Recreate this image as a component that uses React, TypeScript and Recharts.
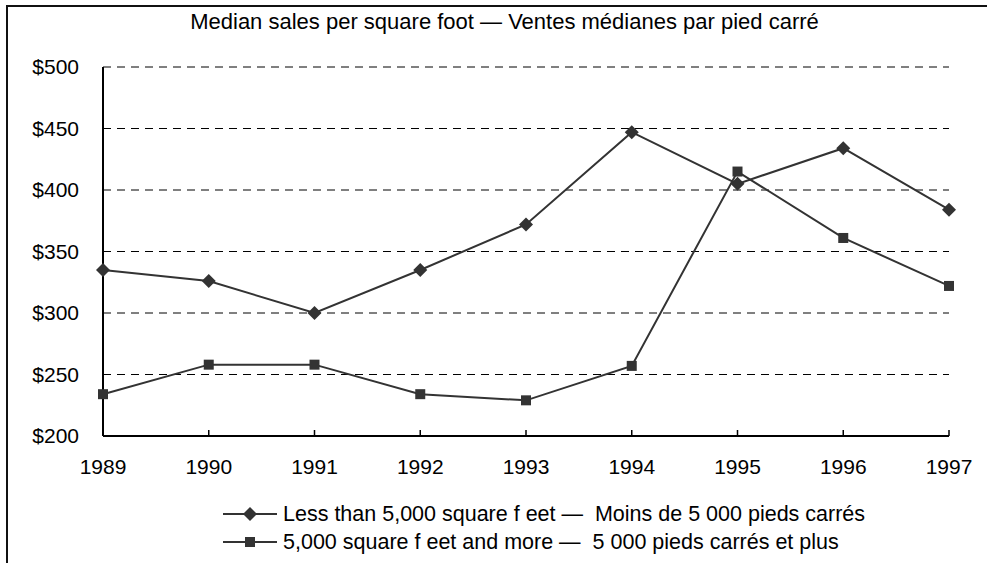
import React from "react";
import { LineChart, Line, XAxis, YAxis, CartesianGrid } from "recharts";

const years = ["1989", "1990", "1991", "1992", "1993", "1994", "1995", "1996", "1997"];
const lessThan5000 = [335, 326, 300, 335, 372, 447, 405, 434, 384];
const moreThan5000 = [234, 258, 258, 234, 229, 257, 415, 361, 322];
const yTicks = [200, 250, 300, 350, 400, 450, 500];
const title = "Median sales per square foot \u2014 Ventes m\u00e9dianes par pied carr\u00e9";
const seriesNames = [
  "Less than 5,000 square f eet \u2014  Moins de 5 000 pieds carr\u00e9s",
  "5,000 square f eet and more \u2014  5 000 pieds carr\u00e9s et plus",
];

const data = years.map((y, i) => ({ year: y, a: lessThan5000[i], b: moreThan5000[i] }));

const FONT = "'Liberation Sans', Arial, sans-serif";
const INK = "#333333";

const Diamond = (props: any) => {
  const { cx, cy } = props;
  if (cx == null || cy == null) return null;
  const r = 7;
  return <path d={`M${cx},${cy - r}L${cx + r},${cy}L${cx},${cy + r}L${cx - r},${cy}Z`} fill={INK} />;
};

const Square = (props: any) => {
  const { cx, cy } = props;
  if (cx == null || cy == null) return null;
  const s = 5;
  return <rect x={cx - s} y={cy - s} width={2 * s} height={2 * s} fill={INK} />;
};

const XTick = (props: any) => {
  const { x, y, payload } = props;
  return (
    <g>
      <line x1={x} y1={y} x2={x} y2={y - 6} stroke="#000" strokeWidth={1.5} />
      <text x={x} y={y + 38} textAnchor="middle" fontFamily={FONT} fontSize={21} fill="#000">
        {payload.value}
      </text>
    </g>
  );
};

const YTick = (props: any) => {
  const { x, y, payload } = props;
  return (
    <text x={x} y={y + 7} textAnchor="end" fontFamily={FONT} fontSize={21} fill="#000">
      {"$" + payload.value}
    </text>
  );
};

export default function App() {
  return (
    <div style={{ position: "absolute", left: 0, top: 0, width: 987, height: 563, background: "#fff" }}>
      <div
        style={{
          position: "absolute",
          left: 6,
          top: 5,
          width: 981,
          height: 558,
          borderTop: "2px solid #111",
          borderLeft: "2px solid #111",
          boxSizing: "border-box",
        }}
      />
      <div
        style={{
          position: "absolute",
          left: 0,
          top: 8,
          width: 1009,
          textAlign: "center",
          fontFamily: FONT,
          fontSize: 22,
          lineHeight: "28px",
          color: "#000",
        }}
      >
        {title}
      </div>
      <div style={{ position: "absolute", left: 0, top: 0 }}>
        <LineChart width={987} height={563} data={data} margin={{ top: 67, right: 38, bottom: 97, left: 23 }}>
          <CartesianGrid vertical={false} stroke="#000" strokeDasharray="8 6" strokeWidth={1} />
          <XAxis
            dataKey="year"
            tick={<XTick />}
            tickSize={0}
            tickMargin={0}
            height={30}
            axisLine={{ stroke: "#000", strokeWidth: 2 }}
            tickLine={false}
            interval={0}
          />
          <YAxis
            domain={[200, 500]}
            ticks={yTicks}
            width={80}
            tick={<YTick />}
            tickSize={0}
            tickMargin={24}
            axisLine={{ stroke: "#000", strokeWidth: 2 }}
            tickLine={false}
          />
          <Line
            dataKey="a"
            stroke={INK}
            strokeWidth={2}
            dot={<Diamond />}
            activeDot={false}
            isAnimationActive={false}
          />
          <Line
            dataKey="b"
            stroke={INK}
            strokeWidth={2}
            dot={<Square />}
            activeDot={false}
            isAnimationActive={false}
          />
        </LineChart>
      </div>
      {seriesNames.map((name, i) => (
        <div
          key={name}
          style={{
            position: "absolute",
            left: 223,
            top: 502 + i * 28,
            height: 24,
            display: "flex",
            alignItems: "center",
            fontFamily: FONT,
            fontSize: 21.5,
            color: "#000",
            whiteSpace: "pre",
          }}
        >
          <svg width={56} height={20} style={{ marginRight: 4 }}>
            <line x1={0} y1={10} x2={54} y2={10} stroke={INK} strokeWidth={2} />
            {i === 0 ? (
              <path d="M27,3L34,10L27,17L20,10Z" fill={INK} />
            ) : (
              <rect x={22} y={5} width={10} height={10} fill={INK} />
            )}
          </svg>
          <span>{name}</span>
        </div>
      ))}
    </div>
  );
}
